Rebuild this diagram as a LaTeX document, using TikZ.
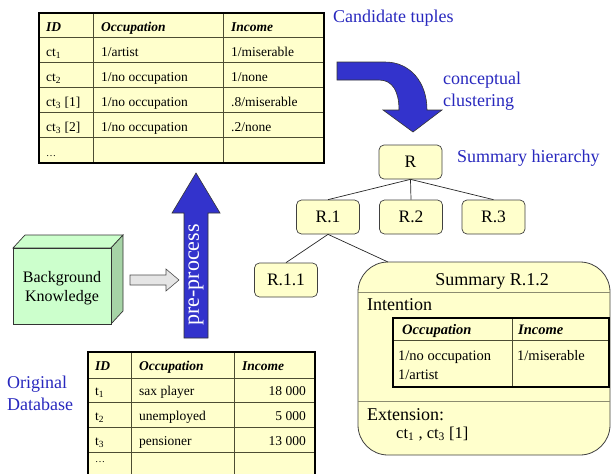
\documentclass[tikz,border=0pt]{standalone}
\usepackage{fontspec}
\setmainfont{Liberation Serif}
\definecolor{pale}{HTML}{FFFFCC}
\definecolor{lblue}{RGB}{40,40,190}
\definecolor{arrblue}{HTML}{3333CC}
\definecolor{cubefront}{HTML}{CCFFCC}
\definecolor{cubeside}{HTML}{A6D4A6}
\definecolor{gridc}{HTML}{4D4D33}
\definecolor{sepc}{HTML}{8C8C70}
\tikzset{
  cellt/.style={anchor=base west, inner sep=0pt, font=\fontsize{13.5}{16}\selectfont},
  cellr/.style={anchor=base east, inner sep=0pt, font=\fontsize{13.5}{16}\selectfont},
  hdr/.style={anchor=base west, inner sep=0pt, font=\fontsize{13.5}{16}\selectfont\bfseries\itshape},
  icell/.style={anchor=base west, inner sep=0pt, font=\fontsize{14.5}{18}\selectfont},
  ihdr/.style={anchor=base west, inner sep=0pt, font=\fontsize{14.5}{18}\selectfont\bfseries\itshape},
  lbl/.style={text=lblue, font=\fontsize{18}{22}\selectfont, inner sep=0pt, align=left},
  btxt/.style={inner sep=0pt, font=\fontsize{18}{22}\selectfont},
  tnode/.style={draw=black!75, fill=pale, rounded corners=5pt, line width=0.7pt,
    minimum width=63pt, minimum height=34pt, inner sep=0pt, font=\fontsize{17.5}{20}\selectfont},
  tline/.style={draw=black!85, line width=0.7pt},
  gridl/.style={draw=gridc, line width=0.8pt},
  frame/.style={draw=black, line width=1.8pt},
}
\begin{document}
\begin{tikzpicture}[x=1pt,y=-1pt]
\useasboundingbox (0,0) rectangle (611,474);
\clip (0,0) rectangle (611,474);

% ---------- top table: candidate tuples
\fill[pale] (39,13) rectangle (324,163);
\path[gridl] (93,13)--(93,163) (223,13)--(223,163)
  (39,37)--(324,37) (39,62)--(324,62) (39,87)--(324,87) (39,112)--(324,112) (39,137)--(324,137);
\path[frame] (39,13) rectangle (324,163);
\node[hdr] (a01) at (46,31) {ID};
\node[hdr] (a02) at (101,31) {Occupation};
\node[hdr] (a03) at (231,31) {Income};
\node[cellt] (a11) at (46,56) {ct\textsubscript{1}};
\node[cellt] (a12) at (101,56) {1/artist};
\node[cellt] (a13) at (231,56) {1/miserable};
\node[cellt] (a21) at (46,81) {ct\textsubscript{2}};
\node[cellt] (a22) at (101,81) {1/no occupation};
\node[cellt] (a23) at (231,81) {1/none};
\node[cellt] (a31) at (46,106) {ct\textsubscript{3} [1]};
\node[cellt] (a32) at (101,106) {1/no occupation};
\node[cellt] (a33) at (231,106) {.8/miserable};
\node[cellt] (a41) at (46,131) {ct\textsubscript{3} [2]};
\node[cellt] (a42) at (101,131) {1/no occupation};
\node[cellt] (a43) at (231,131) {.2/none};
\node[cellt] (a51) at (46,156) {\fontsize{10}{12}\selectfont\dots};

\node[lbl, anchor=base west] (cand) at (333,22) {Candidate tuples};

% ---------- curved arrow
\draw[fill=arrblue, draw=black!80, line width=0.6pt]
  (337,62) -- (385,62) .. controls (410,62) and (427,82) .. (427,110)
  -- (442,110) -- (413,132) -- (383,110) -- (399,110)
  .. controls (399,92) and (393,80) .. (379,80) -- (337,80) -- cycle;
\node[lbl, anchor=north west] (clus) at (443,72) {conceptual\\clustering};

% ---------- hierarchy
\node[tnode] (R) at (410.5,162) {R};
\node[tnode] (R1) at (328,217) {R.1};
\node[tnode] (R2) at (411,217) {R.2};
\node[tnode] (R3) at (493.5,217) {R.3};
\node[tnode] (R11) at (286,280) {R.1.1};
\node[lbl, anchor=base west] (hier) at (457,162) {Summary hierarchy};

\node[draw=black!75, fill=pale, rounded corners=30pt, line width=0.8pt,
  minimum width=252pt, minimum height=193pt, inner sep=0pt] (sum) at (484,358.5) {};
\coordinate (sumtop) at (388,262);

\path[tline] (R.south) -- (R1.north);
\path[tline] (R.south) -- (R2.north);
\path[tline] (R.south) -- (R3.north);
\path[tline] (R1.south) -- (R11.north);
\path[tline] (R1.south) -- (sumtop);

% summary contents
\path[draw=sepc, line width=1pt] (358,292) -- (610,292) (358,401) -- (610,401);
\node[btxt, anchor=base] (sumt) at (492,285) {Summary R.1.2};
\node[btxt, anchor=base west] (intn) at (367,310) {Intention};
\path[gridl] (512,318)--(512,387) (393,340)--(609,340);
\path[frame] (393,318) rectangle (609,387);
\node[ihdr] (s01) at (402,334) {Occupation};
\node[ihdr] (s02) at (518,334) {Income};
\node[icell] (s11) at (398,360) {1/no occupation};
\node[icell] (s12) at (517,360) {1/miserable};
\node[icell] (s21) at (398,379) {1/artist};
\node[btxt, anchor=base west] (ext) at (367,420) {Extension:};
\node[btxt, anchor=base west, font=\fontsize{16.5}{20}\selectfont] (extl) at (396,438) {ct\textsubscript{1} , ct\textsubscript{3} [1]};

% ---------- background knowledge cube
\draw[fill=cubefront, draw=black!80, line width=0.7pt] (13,248) -- (25,235) -- (123,235) -- (111,248) -- cycle;
\draw[fill=cubeside, draw=black!80, line width=0.7pt] (111,248) -- (123,235) -- (123,311) -- (111,324) -- cycle;
\draw[fill=cubefront, draw=black!80, line width=0.7pt] (13,248) rectangle (111,324);
\node[inner sep=0pt, align=center, font=\fontsize{16}{19}\selectfont] (bk) at (62,288) {Background\\Knowledge};

% gray arrow
\draw[fill=black!10, draw=black!70, line width=0.6pt]
  (130,275) -- (166,275) -- (166,269) -- (179,280) -- (166,291) -- (166,285) -- (130,285) -- cycle;

% pre-process arrow
\draw[fill=arrblue, draw=black!80, line width=0.6pt]
  (184,338) -- (184,213) -- (172,213) -- (196,173) -- (220,213) -- (208,213) -- (208,338) -- cycle;
\node[rotate=90, text=white, inner sep=0pt, font=\fontsize{22}{26}\selectfont] (pp) at (196,275) {pre-process};

% ---------- bottom table: original database
\fill[pale] (88,352) rectangle (315,480);
\path[gridl] (131,352)--(131,480) (234,352)--(234,480)
  (88,378)--(315,378) (88,402)--(315,402) (88,427)--(315,427) (88,452)--(315,452);
\path[frame] (88,352) rectangle (315,480);
\node[hdr] (b01) at (95,370) {ID};
\node[hdr] (b02) at (139,370) {Occupation};
\node[hdr] (b03) at (242,370) {Income};
\node[cellt] (b11) at (95,395) {t\textsubscript{1}};
\node[cellt] (b12) at (139,395) {sax player};
\node[cellr] (b13) at (306,395) {18 000};
\node[cellt] (b21) at (95,420) {t\textsubscript{2}};
\node[cellt] (b22) at (139,420) {unemployed};
\node[cellr] (b23) at (306,420) {5 000};
\node[cellt] (b31) at (95,445) {t\textsubscript{3}};
\node[cellt] (b32) at (139,445) {pensioner};
\node[cellr] (b33) at (306,445) {13 000};
\node[cellt] (b41) at (95,462) {\fontsize{10}{12}\selectfont\dots};

\node[lbl, anchor=north west] (orig) at (7,376) {Original\\Database};
\end{tikzpicture}
\end{document}
